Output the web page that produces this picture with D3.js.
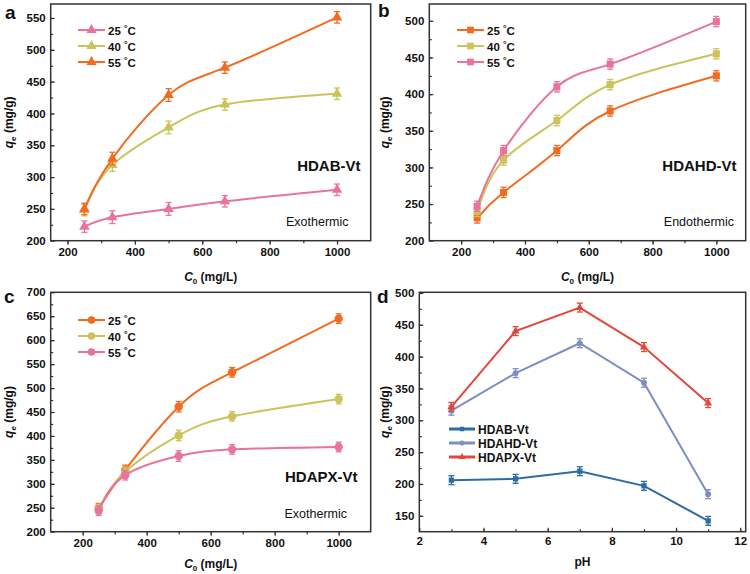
<!DOCTYPE html>
<html><head><meta charset="utf-8">
<script src="https://cdn.jsdelivr.net/npm/d3@7"></script>
<style>
body{margin:0;background:#fff;}
text{font-family:Arial,"Liberation Sans",sans-serif;}
</style></head>
<body><svg id="chart" width="750" height="574"></svg>
<script>
// ---------- data ----------
const conc = [250, 333, 500, 667, 1000];
const tempLabels = ["25", "40", "55"];
const a25 = [222, 237, 250, 262, 280];
const a40 = [248, 319, 378, 414, 431];
const a55 = [250, 329, 429, 472, 551];
const aErr = [9, 10, 10, 9, 9];
const b25 = [231, 266, 323, 377, 425];
const b40 = [240, 310, 364, 413, 455];
const b55 = [247, 323, 410, 441, 499];
const bErr = [7, 7, 7, 7, 7];
const c25 = [249, 329, 461, 533, 645];
const c40 = [247, 325, 401, 441, 477];
const c55 = [244, 318, 358, 372, 377];
const cErr = [10, 10, 11, 10, 10];
const pH = [3, 5, 7, 9, 11];
const dNames = ["HDAB-Vt", "HDAHD-Vt", "HDAPX-Vt"];
const dHDAB = [206, 208, 220, 197, 142];
const dHDAHD = [315, 374, 421, 359, 184];
const dHDAPX = [321, 440, 477, 415, 327];
const dErr = [7, 7, 7, 7, 7];
const xTicksC = [200, 400, 600, 800, 1000];
const xTicksPH = [2, 4, 6, 8, 10, 12];

// ---------- styles ----------
const PINK = "#e8739b", OLIVE = "#cbc35b", ORANGE = "#f26b22";
const BLUE = "#2c6ba3", GREYBLUE = "#7d8ec2", RED = "#e5463a";
const AXIS = "#333";

const svg = d3.select("#chart");

function tempLabel(sel, t) {
  sel.append("tspan").text(t + " ");
  sel.append("tspan").attr("dy", -4).attr("font-size", 9).text("°");
  sel.append("tspan").attr("dy", 4).text("C");
}

function drawPanel(cfg) {
  const g = svg.append("g");
  const x = d3.scaleLinear().domain(cfg.xDomain).range([cfg.left, cfg.right]);
  const y = d3.scaleLinear().domain(cfg.yDomain).range([cfg.bottom, cfg.top]);
  const xIn = cfg.xInward, yIn = cfg.yInward;
  const fmt = d3.format("d");

  const xMinor = d3.range(Math.ceil(cfg.xDomain[0] / cfg.xMinor) * cfg.xMinor, cfg.xDomain[1] + 1e-9, cfg.xMinor).filter(v => v > cfg.xDomain[0] && v < cfg.xDomain[1]);
  const yMinor = d3.range(Math.ceil(cfg.yDomain[0] / cfg.yMinor) * cfg.yMinor, cfg.yDomain[1] + 1e-9, cfg.yMinor).filter(v => v > cfg.yDomain[0] && v < cfg.yDomain[1]);

  g.append("g").attr("transform", `translate(0,${cfg.bottom})`)
    .call(d3.axisBottom(x).tickValues(cfg.xTicks).tickFormat(fmt).tickSize(xIn ? -4 : 4).tickPadding(xIn ? 5 : 3).tickSizeOuter(0));
  g.append("g").attr("transform", `translate(0,${cfg.bottom})`)
    .call(d3.axisBottom(x).tickValues(xMinor).tickSize(xIn ? -2.5 : 2.5).tickFormat("").tickSizeOuter(0));
  g.append("g").attr("transform", `translate(${cfg.left},0)`)
    .call(d3.axisLeft(y).tickValues(cfg.yTicks).tickFormat(fmt).tickSize(yIn ? -4 : 4).tickPadding(yIn ? 5 : 3).tickSizeOuter(0));
  g.append("g").attr("transform", `translate(${cfg.left},0)`)
    .call(d3.axisLeft(y).tickValues(yMinor).tickSize(yIn ? -2.5 : 2.5).tickFormat("").tickSizeOuter(0));
  g.selectAll(".domain").remove();
  g.selectAll(".tick line").attr("stroke", AXIS).attr("stroke-width", 1.2);
  g.selectAll(".tick text").attr("font-size", 11.5).attr("font-weight", "bold").attr("fill", "#111")
    .attr("font-family", "Arial, 'Liberation Sans', sans-serif");

  g.append("rect").attr("x", cfg.left).attr("y", cfg.top)
    .attr("width", cfg.right - cfg.left).attr("height", cfg.bottom - cfg.top)
    .attr("fill", "none").attr("stroke", AXIS).attr("stroke-width", 1.5);

  const line = d3.line().x(d => x(d[0])).y(d => y(d[1])).curve(cfg.curve);
  cfg.series.forEach(s => {
    const pts = cfg.xs.map((v, i) => [v, s.values[i], s.err[i]]);
    g.append("path").datum(pts).attr("d", line).attr("fill", "none")
      .attr("stroke", s.color).attr("stroke-width", cfg.lineWidth);
    const eb = g.append("g").attr("stroke", s.color).attr("stroke-width", 1.3);
    pts.forEach(p => {
      const cx = x(p[0]);
      eb.append("line").attr("x1", cx).attr("x2", cx).attr("y1", y(p[1] - p[2])).attr("y2", y(p[1] + p[2]));
      [p[1] - p[2], p[1] + p[2]].forEach(v =>
        eb.append("line").attr("x1", cx - 3).attr("x2", cx + 3).attr("y1", y(v)).attr("y2", y(v)));
    });
    g.selectAll(null).data(pts).enter().append("path")
      .attr("transform", d => `translate(${x(d[0])},${y(d[1])})`)
      .attr("d", d3.symbol().type(s.symbol).size(cfg.markerSize))
      .attr("fill", s.color);
  });

  cfg.series.forEach((s, i) => {
    const ly = cfg.legend.y + i * cfg.legend.dy;
    g.append("line").attr("x1", cfg.legend.x).attr("x2", cfg.legend.x + cfg.legend.len)
      .attr("y1", ly).attr("y2", ly).attr("stroke", s.color).attr("stroke-width", cfg.legend.lw);
    g.append("path").attr("transform", `translate(${cfg.legend.x + cfg.legend.len / 2},${ly})`)
      .attr("d", d3.symbol().type(s.symbol).size(cfg.legend.ms)).attr("fill", s.color);
    const t = g.append("text").attr("x", cfg.legend.x + cfg.legend.len + 3).attr("y", ly + 4.5)
      .attr("font-size", cfg.legend.fs).attr("font-weight", "bold").attr("fill", "#111");
    if (cfg.tempLegend) tempLabel(t, s.name); else t.text(s.name);
  });

  g.append("text").attr("x", cfg.letterX).attr("y", cfg.letterY).attr("font-size", 19)
    .attr("font-weight", "bold").attr("fill", "#111").text(cfg.letter);

  const yt = g.append("text").attr("transform", `translate(${cfg.yTitleX},${(cfg.top + cfg.bottom) / 2}) rotate(-90)`)
    .attr("text-anchor", "middle").attr("font-size", 12).attr("font-weight", "bold").attr("fill", "#111");
  yt.append("tspan").attr("font-style", "italic").text("q");
  yt.append("tspan").attr("font-size", 8).attr("dy", 3).text("e");
  yt.append("tspan").attr("dy", -3).text(" (mg/g)");

  const xt = g.append("text").attr("x", (cfg.left + cfg.right) / 2).attr("y", cfg.xTitleY)
    .attr("text-anchor", "middle").attr("font-size", 12).attr("font-weight", "bold").attr("fill", "#111");
  if (cfg.xTitle === "pH") xt.text("pH");
  else {
    xt.append("tspan").attr("font-style", "italic").text("C");
    xt.append("tspan").attr("font-size", 8).attr("dy", 3).text("0");
    xt.append("tspan").attr("dy", -3).text(" (mg/L)");
  }

  (cfg.notes || []).forEach(n => {
    g.append("text").attr("x", n.x).attr("y", n.y).attr("text-anchor", "end")
      .attr("font-size", n.fs).attr("font-weight", n.fw).attr("fill", "#111").text(n.text);
  });
}

const legTemp = (x, y) => ({x, y, dy: 16, len: 27, lw: 2, ms: 45, fs: 11.5});

drawPanel({
  left: 50.7, right: 370.7, top: 4, bottom: 240.7,
  xDomain: [150, 1100], yDomain: [200, 572], xTicks: xTicksC, yTicks: d3.range(200, 551, 50),
  xMinor: 100, yMinor: 25, xInward: false, yInward: true,
  curve: d3.curveNatural, lineWidth: 2, markerSize: 48, xs: conc,
  series: [
    {name: tempLabels[0], values: a25, err: aErr, color: PINK, symbol: d3.symbolTriangle},
    {name: tempLabels[1], values: a40, err: aErr, color: OLIVE, symbol: d3.symbolTriangle},
    {name: tempLabels[2], values: a55, err: aErr, color: ORANGE, symbol: d3.symbolTriangle}],
  legend: legTemp(78, 30), tempLegend: true,
  letter: "a", letterX: 5, letterY: 19, yTitleX: 13, xTitle: "C", xTitleY: 280.5,
  notes: [{x: 360.5, y: 170.5, text: "HDAB-Vt", fs: 15, fw: "bold"},
          {x: 348.5, y: 226, text: "Exothermic", fs: 12.5, fw: "normal"}]
});

drawPanel({
  left: 429.3, right: 745.7, top: 4, bottom: 240.7,
  xDomain: [100, 1092], yDomain: [200, 523], xTicks: xTicksC, yTicks: d3.range(200, 501, 50),
  xMinor: 100, yMinor: 25, xInward: false, yInward: true,
  curve: d3.curveNatural, lineWidth: 2, markerSize: 50, xs: conc,
  series: [
    {name: tempLabels[0], values: b25, err: bErr, color: ORANGE, symbol: d3.symbolSquare},
    {name: tempLabels[1], values: b40, err: bErr, color: OLIVE, symbol: d3.symbolSquare},
    {name: tempLabels[2], values: b55, err: bErr, color: PINK, symbol: d3.symbolSquare}],
  legend: legTemp(457, 30), tempLegend: true,
  letter: "b", letterX: 378, letterY: 17, yTitleX: 389, xTitle: "C", xTitleY: 280.5,
  notes: [{x: 736.5, y: 170.5, text: "HDAHD-Vt", fs: 15, fw: "bold"},
          {x: 734, y: 226, text: "Endothermic", fs: 12.5, fw: "normal"}]
});

drawPanel({
  left: 50.7, right: 370.7, top: 292.3, bottom: 531.7,
  xDomain: [100, 1100], yDomain: [200, 700], xTicks: xTicksC, yTicks: d3.range(200, 701, 50),
  xMinor: 100, yMinor: 25, xInward: false, yInward: true,
  curve: d3.curveNatural, lineWidth: 2, markerSize: 55, xs: conc,
  series: [
    {name: tempLabels[0], values: c25, err: cErr, color: ORANGE, symbol: d3.symbolCircle},
    {name: tempLabels[1], values: c40, err: cErr, color: OLIVE, symbol: d3.symbolCircle},
    {name: tempLabels[2], values: c55, err: cErr, color: PINK, symbol: d3.symbolCircle}],
  legend: legTemp(78, 320), tempLegend: true,
  letter: "c", letterX: 4, letterY: 303, yTitleX: 13, xTitle: "C", xTitleY: 568,
  notes: [{x: 357.5, y: 482, text: "HDAPX-Vt", fs: 15, fw: "bold"},
          {x: 347, y: 518, text: "Exothermic", fs: 12.5, fw: "normal"}]
});

drawPanel({
  left: 419.3, right: 745.7, top: 292.3, bottom: 531.7,
  xDomain: [2, 12.17], yDomain: [125, 501], xTicks: xTicksPH, yTicks: d3.range(150, 501, 50),
  xMinor: 1, yMinor: 25, xInward: true, yInward: true,
  curve: d3.curveLinear, lineWidth: 2, markerSize: 28, xs: pH,
  series: [
    {name: dNames[0], values: dHDAB, err: dErr, color: BLUE, symbol: d3.symbolSquare},
    {name: dNames[1], values: dHDAHD, err: dErr, color: GREYBLUE, symbol: d3.symbolCircle},
    {name: dNames[2], values: dHDAPX, err: dErr, color: RED, symbol: d3.symbolTriangle}],
  legend: {x: 449, y: 429, dy: 14, len: 26, lw: 3, ms: 20, fs: 12},
  tempLegend: false,
  letter: "d", letterX: 377, letterY: 303, yTitleX: 389, xTitle: "pH", xTitleY: 566
});
</script></body></html>
